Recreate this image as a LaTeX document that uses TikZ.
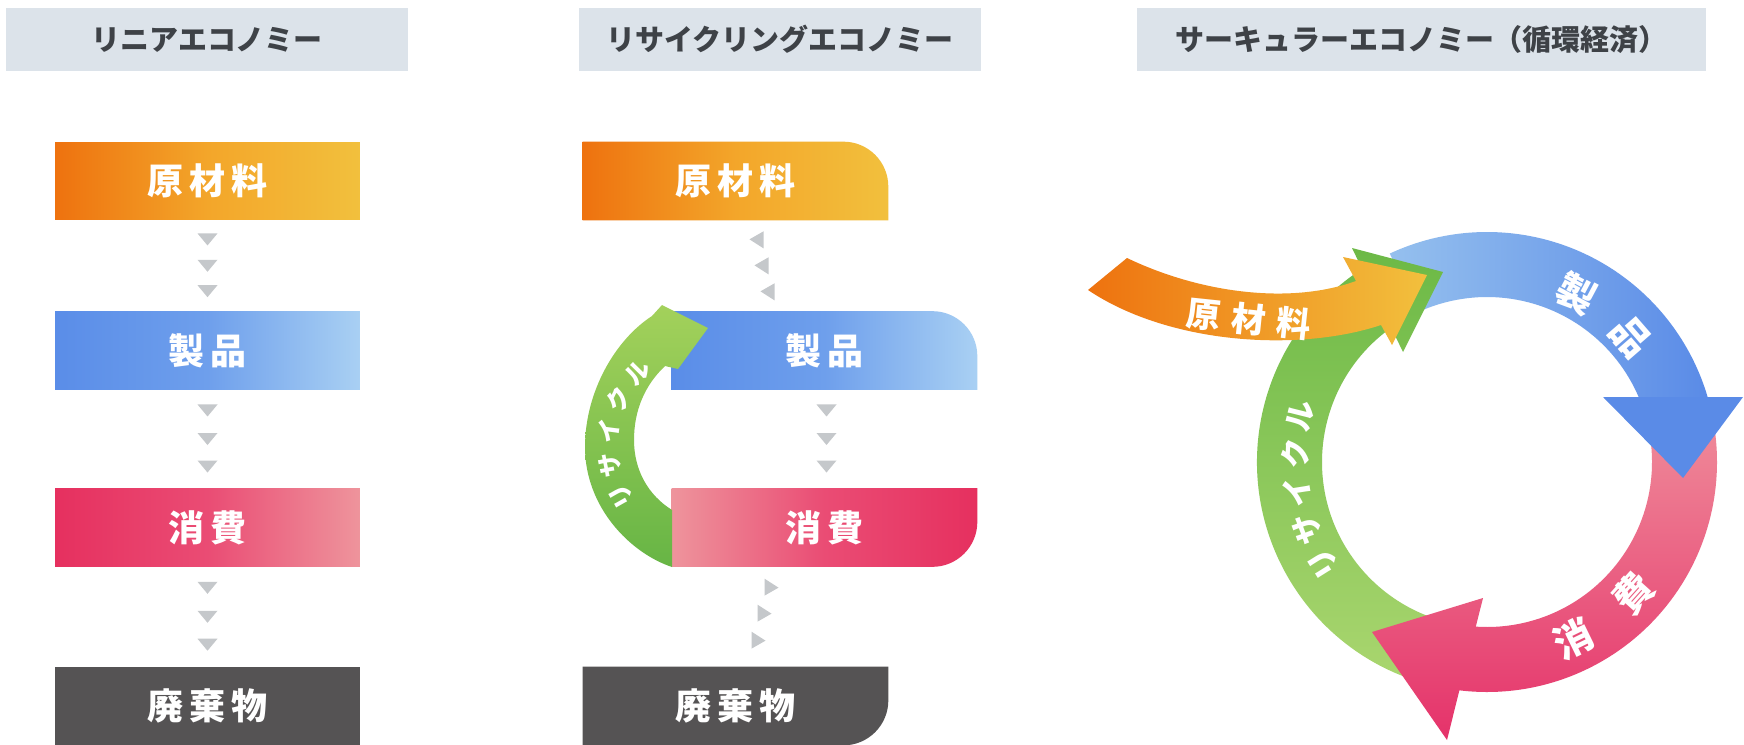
\documentclass[tikz,border=0pt]{standalone}
\usepackage{fontspec}
\setmainfont{Noto Sans CJK JP}
\usetikzlibrary{calc, backgrounds}

\definecolor{hdrfill}{HTML}{DCE3EA}
\definecolor{hdrtext}{HTML}{3E4247}
\definecolor{orA}{HTML}{EE720F}
\definecolor{orB}{HTML}{F3A62A}
\definecolor{orC}{HTML}{F2C03D}
\definecolor{blA}{HTML}{5A8DE8}
\definecolor{blB}{HTML}{6E9FEC}
\definecolor{blC}{HTML}{A9D0F3}
\definecolor{pkA}{HTML}{E6305F}
\definecolor{pkB}{HTML}{EA4C74}
\definecolor{pkC}{HTML}{EE949C}
\definecolor{waste}{HTML}{555354}
\definecolor{trigray}{HTML}{C5C8CB}
\definecolor{rgTop}{HTML}{A3D15B}
\definecolor{rgBot}{HTML}{67B545}
\definecolor{cbL}{HTML}{95C0EE}
\definecolor{cbD}{HTML}{5A8BE7}
\definecolor{cpL}{HTML}{EF8A99}
\definecolor{cpD}{HTML}{E5326A}
\definecolor{cgD}{HTML}{6CB946}
\definecolor{cgL}{HTML}{AAD66F}

\newcommand{\jgap}{\hspace{0.12cm}}

\begin{document}
\begin{tikzpicture}[x=0.02cm, y=-0.02cm,
hdr/.style={fill=hdrfill, minimum height=1.26cm, inner sep=0pt, text=hdrtext, font=\fontsize{16.5}{18}\selectfont\bfseries},
box/.style={minimum width=6.1cm, minimum height=1.56cm, inner sep=0pt, text=white, font=\fontsize{20.5}{22}\selectfont\bfseries},
arctxt/.style={text=white, inner sep=0pt, font=\fontsize{22}{24}\selectfont\bfseries},
tri/.pic={\fill[trigray] (-10,-6) -- (10,-6) -- (0,6) -- cycle;},
trileft/.pic={\fill[trigray] (-8,-1) -- (6,-9) -- (6,8) -- cycle;},
triright/.pic={\fill[trigray] (8,1) -- (-6,-8) -- (-6,9) -- cycle;}
]
\begin{scope}[on background layer]
\fill[white] (0,0) rectangle (1744,744);
\end{scope}
\useasboundingbox (0,0) rectangle (1744,744);

% headers
\node[hdr, minimum width=8.04cm] (hlin) at (207,39.5) {リニアエコノミー};
\node[hdr, minimum width=8.04cm] (hrec) at (780,39.5) {リサイクリングエコノミー};
\node[hdr, minimum width=11.38cm] (hcir) at (1421.5,39.5) {サーキュラーエコノミー（循環経済）};

% linear economy
\node[box, left color=orA, right color=orC, middle color=orB] (l1) at (207.5,181) {原\jgap 材\jgap 料};
\node[box, left color=blA, right color=blC, middle color=blB] (l2) at (207.5,350.5) {製\jgap 品};
\node[box, left color=pkA, right color=pkC, middle color=pkB] (l3) at (207.5,527.5) {消\jgap 費};
\node[box, fill=waste] (l4) at (207.5,706) {廃\jgap 棄\jgap 物};
\foreach \a/\b in {l1/l2, l2/l3, l3/l4}
  \foreach \t in {0.21,0.5,0.78}
    \pic at ($(\a.south)!\t!(\b.north)$) {tri};

% recycling economy
\node[box] (r1) at (735.5,181) {原\jgap 材\jgap 料};
\node[box] (r2) at (824.5,350.5) {製\jgap 品};
\node[box] (r3) at (824.5,527.5) {消\jgap 費};
\node[box] (r4) at (735.5,706) {廃\jgap 棄\jgap 物};
\begin{scope}[on background layer]
\shade[left color=orA, right color=orC, middle color=orB] (r1.south west) -- (r1.north west) -- ([xshift=-0.9cm]r1.north east) arc[start angle=90, end angle=0, radius=0.9cm] -- (r1.south east) -- cycle;
\shade[left color=blA, right color=blC, middle color=blB] (r2.south west) -- (r2.north west) -- ([xshift=-0.9cm]r2.north east) arc[start angle=90, end angle=0, radius=0.9cm] -- (r2.south east) -- cycle;
\shade[left color=pkC, right color=pkA, middle color=pkB] (r3.north west) -- (r3.north east) -- ([yshift=0.9cm]r3.south east) arc[start angle=0, end angle=-90, radius=0.9cm] -- (r3.south west) -- cycle;
\fill[waste] (r4.north west) -- (r4.north east) -- ([yshift=0.9cm]r4.south east) arc[start angle=0, end angle=-90, radius=0.9cm] -- (r4.south west) -- cycle;
\end{scope}
\foreach \dx/\dy in {22/20, 27/46, 33/72}
  \pic at ($(r1.south)+(\dx,\dy)$) {trileft};
\foreach \t in {0.21,0.5,0.78}
  \pic at ($(r2.south)!\t!(r3.north)+(2,0)$) {tri};
\foreach \dx/\dy in {35/-80, 28/-54, 22/-27}
  \pic at ($(r4.north)+(\dx,\dy)$) {triright};

% recycle arrow
\shade[top color=rgTop, bottom color=rgBot] (672,567) .. controls (630,553) and (585,507) .. (585,447) .. controls (585,392) and (615,340) .. (652,316) -- (662,305) -- (708,328) -- (678,369) -- (665,366) .. controls (645,385) and (634,410) .. (634,440) .. controls (634,470) and (648,495) .. (672,510) -- cycle;
\coordinate (rc) at (712,445);
\foreach \ch [count=\i] in {リ,サ,イ,ク,ル} {
  \pgfmathsetmacro\ang{132+18.5*\i}
  \node[text=white, inner sep=0pt, font=\fontsize{14}{15}\selectfont\bfseries, rotate=270-\ang] (rt\i) at ($(rc)+(\ang:104)$) {\ch};
}

% circular economy
\coordinate (cc) at (1487,462);
\shade[left color=cbL, right color=cbD] ($(cc)+(245:230)$) arc[start angle=245, end angle=343.6, radius=230] -- ($(cc)+(336.8:165)$) arc[start angle=336.8, end angle=245, radius=165] -- cycle;
\shade[top color=cgD, bottom color=cgL] ($(cc)+(105:230)$) arc[start angle=105, end angle=237.1, radius=230] -- (1352,248) -- (1443,272) -- (1403,352) -- ($(cc)+(234.5:165)$) arc[start angle=234.5, end angle=105, radius=165] -- cycle;
\shade[top color=cpL, bottom color=cpD] ($(cc)+(-10:165)$) arc[start angle=-10, end angle=93.9, radius=165] -- (1483,598) -- (1372,632) -- (1447,740) -- ($(cc)+(96.9:230)$) arc[start angle=96.9, end angle=-10, radius=230] -- cycle;
\fill[cbD] (1603,397) -- (1743,397) -- (1683,478) -- cycle;
\shade[left color=orA, right color=orC] (1127,258) .. controls (1200,293) and (1290,305) .. (1356,281) -- (1343,257) -- (1427,275) -- (1392,345) -- (1381,325) .. controls (1300,352) and (1170,345) .. (1088,290) -- cycle;

\node[text=white, inner sep=0pt, font=\fontsize{19.5}{21}\selectfont\bfseries, rotate=-6] (craw) at (1249,319) {原\hspace{0.22cm}材\hspace{0.22cm}料};
\node[arctxt, rotate=270-298] (cp1) at ($(cc)+(298:191)$) {製};
\node[arctxt, rotate=270-319] (cp2) at ($(cc)+(319:190)$) {品};
\node[arctxt, rotate=90-64] (cs1) at ($(cc)+(64:197)$) {消};
\node[arctxt, rotate=90-42] (cs2) at ($(cc)+(42:197)$) {費};
\foreach \ch/\ang [count=\i] in {リ/148,サ/159.5,イ/171,ク/182.5,ル/194}
  \node[text=white, inner sep=0pt, font=\fontsize{17.5}{19}\selectfont\bfseries, rotate=270-\ang] (cr\i) at ($(cc)+(\ang:192)$) {\ch};
\end{tikzpicture}
\end{document}
